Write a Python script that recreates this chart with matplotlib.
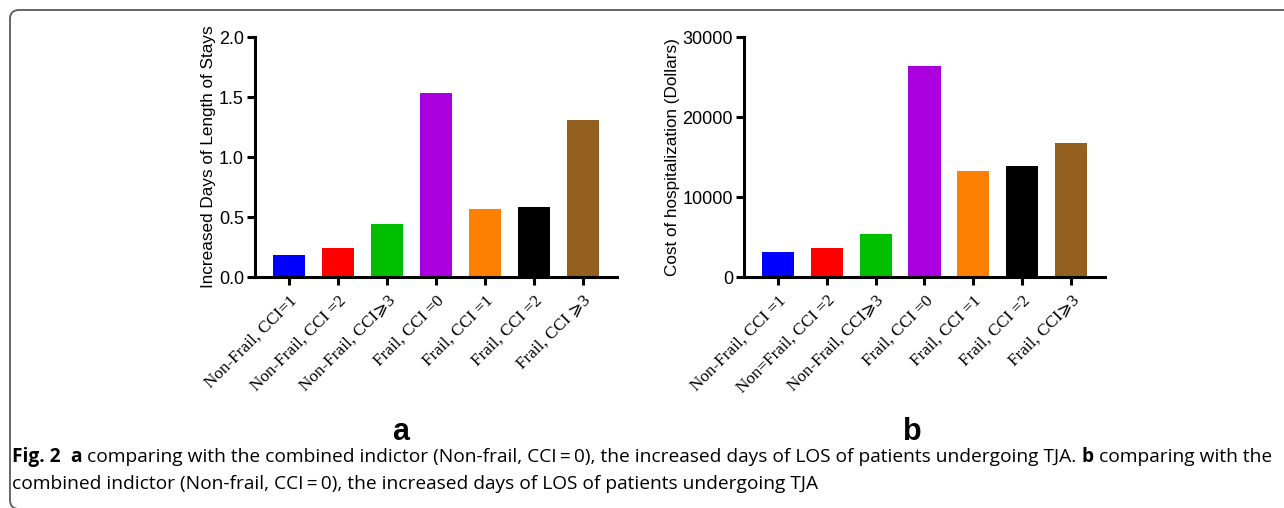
import matplotlib
matplotlib.use("Agg")
import matplotlib.pyplot as plt
from matplotlib.patches import FancyBboxPatch

# Data
groups_a = ["Non-Frail, CCI=1", "Non-Frail, CCI =2", "Non-Frail, CCI\u2a7e3",
            "Frail, CCI =0", "Frail, CCI =1", "Frail, CCI =2", "Frail, CCI \u2a7e3"]
groups_b = ["Non-Frail, CCI =1", "Non=Frail, CCI =2", "Non-Frail, CCI\u2a7e3",
            "Frail, CCI =0", "Frail, CCI =1", "Frail, CCI =2", "Frail, CCI\u2a7e3"]
los_days = [0.183, 0.244, 0.442, 1.53, 0.569, 0.58, 1.311]
cost_dollars = [3080, 3580, 5380, 26420, 13290, 13920, 16750]
bar_colors = ["#0000ff", "#ff0000", "#00be00", "#aa00de", "#ff8000", "#000000", "#93601f"]

W, H = 1284, 508
fig = plt.figure(figsize=(W / 100, H / 100), dpi=100)

sans = ["Liberation Sans", "DejaVu Sans"]
serif = ["Liberation Serif", "DejaVu Serif", "DejaVu Sans"]


def panel(rect, values, labels, yticks, ylabel, letter, letter_x):
    ax = fig.add_axes(rect)
    x = list(range(len(values)))
    ax.bar(x, values, width=0.66, color=bar_colors)
    ax.set_xlim(-0.7, 6.7)
    ax.set_ylim(yticks[0], yticks[-1])
    ax.set_yticks(yticks)
    ax.set_xticks(x)
    ax.set_xticklabels(labels, rotation=45, ha="right", rotation_mode="anchor",
                       family=serif, fontsize=12.3)
    for lab in ax.get_yticklabels():
        lab.set_family(sans)
        lab.set_fontsize(13)
    ax.set_ylabel(ylabel, family=sans, fontsize=12.3, labelpad=2)
    for s in ["top", "right"]:
        ax.spines[s].set_visible(False)
    for s in ["left", "bottom"]:
        ax.spines[s].set_linewidth(2.2)
    ax.tick_params(width=2.2, length=6, pad=2)
    ax.tick_params(axis="x", pad=5)
    fig.text(letter_x / W, 1 - 432 / H, letter, family=sans, weight="bold",
             fontsize=22, ha="center", va="center")
    return ax


ax_a = panel([255 / W, 1 - 277 / H, 362 / W, 240 / H], los_days, groups_a,
             [0.0, 0.5, 1.0, 1.5, 2.0], "Increased Days of Length of Stays", "a", 401)
ax_a.set_yticklabels(["0.0", "0.5", "1.0", "1.5", "2.0"])
ax_b = panel([744 / W, 1 - 277 / H, 361 / W, 240 / H], cost_dollars, groups_b,
             [0, 10000, 20000, 30000], "Cost of hospitalization (Dollars)", "b", 912)

# rounded frame around the figure block
frame = FancyBboxPatch((10, -1), 1400, 499, boxstyle="round,pad=0,rounding_size=9",
                       transform=None, fill=False, edgecolor="#5a5a5a", linewidth=1.3)
fig.patches.append(frame)

# caption with bold pieces
cap_font = ["Open Sans", "DejaVu Sans"]
line1 = [("Fig. 2", True), ("a", True),
         ("comparing with the combined indictor (Non-frail, CCI\u2009=\u20090), the increased days of LOS of patients undergoing TJA.", False),
         ("b", True), ("comparing with the", False)]
line2 = [("combined indictor (Non-frail, CCI\u2009=\u20090), the increased days of LOS of patients undergoing TJA", False)]

renderer = fig.canvas.get_renderer()


def draw_line(pieces, x0, y, size, gaps):
    x = x0
    made = []
    for (txt, bold), gap in zip(pieces, gaps):
        t = fig.text(x / W, y / H, txt, family=cap_font, fontsize=size,
                     weight="bold" if bold else "normal", va="baseline", ha="left")
        made.append(t)
        bb = t.get_window_extent(renderer)
        x = bb.x1 + gap
    return x, made


size = 12.5
gaps1 = [10, 5, 5, 5, 0]
tmp, made = draw_line(line1, 12, -100, size, gaps1)
size = size * (1276 - 12) / (tmp - 12)
for t in made:
    t.remove()
draw_line(line1, 12, H - 462, size, gaps1)
draw_line(line2, 12, H - 489, size, [0])

fig.savefig("out.png", dpi=100)
